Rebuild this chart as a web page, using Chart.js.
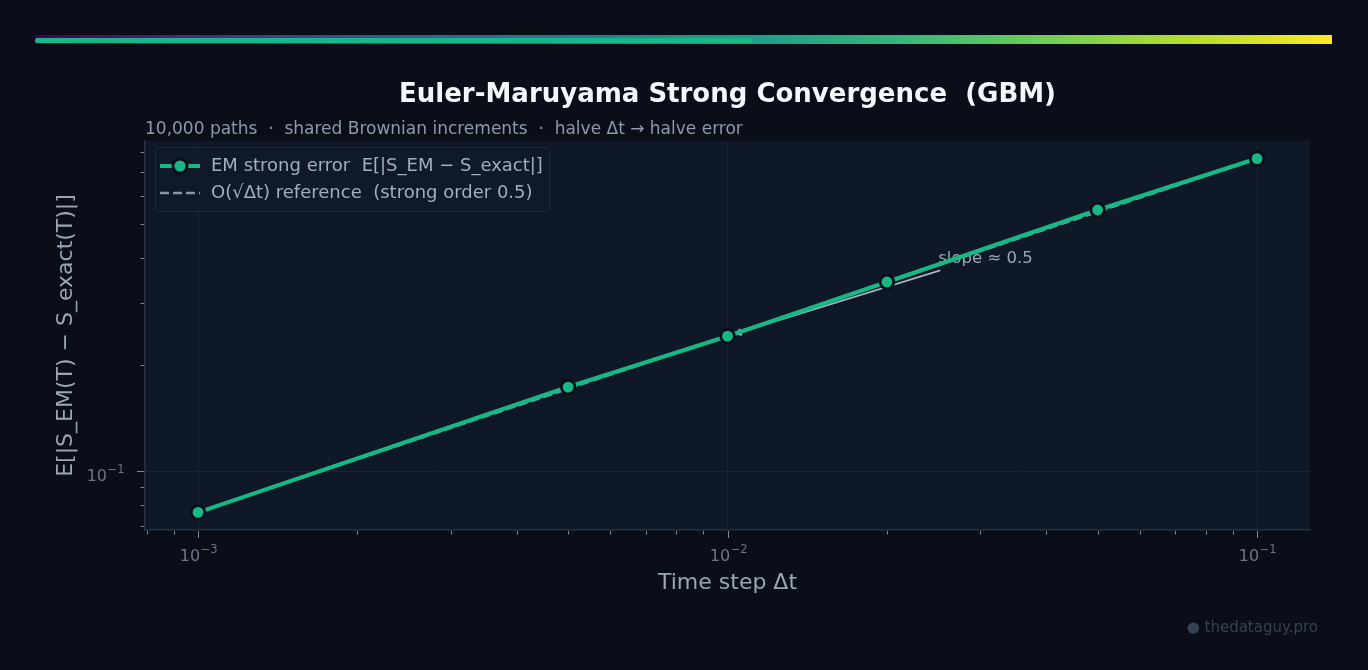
<!DOCTYPE html>
<html>
<head>
<meta charset="utf-8">
<script src="https://cdn.jsdelivr.net/npm/chart.js@4.4.1/dist/chart.umd.min.js"></script>
<style>
html, body { margin: 0; padding: 0; background: #0a0e18; }
#wrap { position: relative; width: 1368px; height: 670px; overflow: hidden; font-family: "DejaVu Sans", sans-serif; }
#bar { position: absolute; left: 35px; top: 35px; width: 1297px; height: 9px;
  background: linear-gradient(90deg, #440154, #482878, #3e4989, #31688e, #26828e, #1f9e89, #35b779, #6ece58, #b5de2b, #fde725); }
#barfill { position: absolute; left: 35px; top: 38px; width: 717px; height: 5px; border-radius: 3px 0 0 3px; background: #15b886; }
#title { position: absolute; left: 145px; width: 1165px; top: 77px; text-align: center; color: #f3f6fa; font-weight: bold; font-size: 26px; line-height: 32px; white-space: pre; }
#sub { position: absolute; left: 145px; top: 118px; color: #8e9aaa; font-size: 17px; line-height: 20px; white-space: pre; }
#wm { position: absolute; right: 50px; top: 617px; color: #364152; font-size: 15px; line-height: 20px; }
canvas { position: absolute; left: 0; top: 0; }
</style>
</head>
<body>
<div id="wrap">
  <canvas id="chart" width="1368" height="670"></canvas>
  <div id="bar"></div>
  <div id="barfill"></div>
  <div id="title">Euler-Maruyama Strong Convergence  (GBM)</div>
  <div id="sub">10,000 paths  ·  shared Brownian increments  ·  halve Δt → halve error</div>
  <div id="wm">● thedataguy.pro</div>
</div>
<script>
const dtValues = [0.001, 0.005, 0.01, 0.02, 0.05, 0.1];
const emError = [0.0765, 0.173, 0.241, 0.343, 0.548, 0.766];
const refError = [0.0765, 0.171, 0.242, 0.342, 0.541, 0.765];

// ticks: majors get a 10^n label, minors only a short mark
const xMajor = [0.001, 0.01, 0.1];
const xMajorExp = ["−3", "−2", "−1"];
const xMinor = [0.0008, 0.0009, 0.002, 0.003, 0.004, 0.005, 0.006, 0.007, 0.008, 0.009,
                0.02, 0.03, 0.04, 0.05, 0.06, 0.07, 0.08, 0.09];
const yMajor = [0.1];
const yMajorExp = ["−1"];
const yMinor = [0.07, 0.08, 0.09, 0.2, 0.3, 0.4, 0.5, 0.6, 0.7, 0.8];

const legendLabels = ["EM strong error  E[|S_EM − S_exact|]", "O(√Δt) reference  (strong order 0.5)"];

const GREEN = "#16b985";
const REF_GRAY = "#8a94a4";
const FONT = "DejaVu Sans";
const TICK_TEXT = "#6b7686";

function isIn(list, v) {
    return list.some(function (m) { return Math.abs(m - v) / m < 1e-6; });
}
function expFor(list, exps, v) {
    for (let i = 0; i < list.length; i++) {
        if (Math.abs(list[i] - v) / list[i] < 1e-6) return exps[i];
    }
    return null;
}

// draws "10" with a raised exponent; x is the centre (align 'center') or right edge (align 'right')
function drawPow(ctx, exp, x, baseY, align) {
    ctx.font = "16px '" + FONT + "'";
    const w1 = ctx.measureText("10").width;
    ctx.font = "11.5px '" + FONT + "'";
    const w2 = ctx.measureText(exp).width;
    const start = align === "center" ? x - (w1 + w2) / 2 : x - (w1 + w2);
    ctx.textAlign = "left";
    ctx.textBaseline = "alphabetic";
    ctx.font = "16px '" + FONT + "'";
    ctx.fillText("10", start, baseY);
    ctx.font = "11.5px '" + FONT + "'";
    ctx.fillText(exp, start + w1 + 0.5, baseY - 8);
}

// plot background
const bgPlugin = {
    id: "plotBg",
    beforeDraw(chart) {
        const { ctx, chartArea: a } = chart;
        ctx.save();
        ctx.fillStyle = "#0e1827";
        ctx.fillRect(a.left, a.top, a.right - a.left, a.bottom - a.top);
        ctx.restore();
    }
};

// tick marks (major longer than minor) and the 10^n labels
const tickPlugin = {
    id: "tickMarks",
    afterDraw(chart) {
        const { ctx, chartArea: a, scales } = chart;
        ctx.save();
        ctx.strokeStyle = "#7d8796";
        ctx.lineWidth = 1;
        scales.x.ticks.forEach(function (t) {
            const px = Math.round(scales.x.getPixelForValue(t.value)) + 0.5;
            const len = isIn(xMajor, t.value) ? 7 : 3.5;
            ctx.beginPath();
            ctx.moveTo(px, a.bottom + 1);
            ctx.lineTo(px, a.bottom + 1 + len);
            ctx.stroke();
            const e = expFor(xMajor, xMajorExp, t.value);
            if (e) {
                ctx.fillStyle = TICK_TEXT;
                drawPow(ctx, e, px, a.bottom + 31, "center");
            }
        });
        scales.y.ticks.forEach(function (t) {
            const py = Math.round(scales.y.getPixelForValue(t.value)) + 0.5;
            const len = isIn(yMajor, t.value) ? 7 : 3.5;
            ctx.beginPath();
            ctx.moveTo(a.left - 1, py);
            ctx.lineTo(a.left - 1 - len, py);
            ctx.stroke();
            const e = expFor(yMajor, yMajorExp, t.value);
            if (e) {
                ctx.fillStyle = TICK_TEXT;
                drawPow(ctx, e, a.left - 21, py + 9, "right");
            }
        });
        ctx.restore();
    }
};

// "slope ≈ 0.5" note with arrow to the 10^-2 point
const notePlugin = {
    id: "slopeNote",
    beforeDatasetsDraw(chart) {
        const { ctx, scales } = chart;
        const tx = scales.x.getPixelForValue(0.025);
        const ty = scales.y.getPixelForValue(0.4);
        const px = scales.x.getPixelForValue(dtValues[2]);
        const py = scales.y.getPixelForValue(emError[2]);
        const sx = tx + 2, sy = ty + 12;
        const ang = Math.atan2(py - sy, px - sx);
        const ex = px - Math.cos(ang) * 8, ey = py - Math.sin(ang) * 8;
        ctx.save();
        ctx.strokeStyle = "#a9b3c2";
        ctx.lineWidth = 1.6;
        ctx.beginPath();
        ctx.moveTo(sx, sy);
        ctx.lineTo(ex, ey);
        ctx.stroke();
        ctx.beginPath();
        ctx.moveTo(ex - Math.cos(ang - 0.45) * 7, ey - Math.sin(ang - 0.45) * 7);
        ctx.lineTo(ex, ey);
        ctx.lineTo(ex - Math.cos(ang + 0.45) * 7, ey - Math.sin(ang + 0.45) * 7);
        ctx.stroke();
        ctx.fillStyle = "#9aa5b5";
        ctx.font = "16.5px '" + FONT + "'";
        ctx.textAlign = "left";
        ctx.textBaseline = "middle";
        ctx.fillText("slope ≈ 0.5", tx, ty);
        ctx.restore();
    }
};

// legend box in the upper left of the plot
const legendPlugin = {
    id: "boxLegend",
    afterDraw(chart) {
        const { ctx, chartArea: a } = chart;
        const x0 = a.left + 10, y0 = a.top + 6, w = 394, h = 64;
        ctx.save();
        ctx.fillStyle = "rgba(15,26,41,0.9)";
        ctx.strokeStyle = "#1d2838";
        ctx.lineWidth = 1;
        ctx.beginPath();
        ctx.roundRect(x0 + 0.5, y0 + 0.5, w, h, 3);
        ctx.fill();
        ctx.stroke();

        const r1 = y0 + 19, r2 = y0 + 46;
        ctx.strokeStyle = GREEN;
        ctx.lineWidth = 4;
        ctx.beginPath();
        ctx.moveTo(x0 + 5, r1);
        ctx.lineTo(x0 + 45, r1);
        ctx.stroke();
        ctx.fillStyle = "#0a0f1a";
        ctx.beginPath();
        ctx.arc(x0 + 25, r1, 8.5, 0, Math.PI * 2);
        ctx.fill();
        ctx.fillStyle = GREEN;
        ctx.beginPath();
        ctx.arc(x0 + 25, r1, 5.6, 0, Math.PI * 2);
        ctx.fill();

        ctx.strokeStyle = REF_GRAY;
        ctx.lineWidth = 2.6;
        ctx.setLineDash([9, 4]);
        ctx.beginPath();
        ctx.moveTo(x0 + 5, r2);
        ctx.lineTo(x0 + 45, r2);
        ctx.stroke();
        ctx.setLineDash([]);

        ctx.fillStyle = "#a3aebd";
        ctx.font = "18px '" + FONT + "'";
        ctx.textAlign = "left";
        ctx.textBaseline = "middle";
        ctx.fillText(legendLabels[0], x0 + 56, r1);
        ctx.fillText(legendLabels[1], x0 + 56, r2);
        ctx.restore();
    }
};

new Chart(document.getElementById("chart"), {
    type: "line",
    data: {
        datasets: [
            {
                label: legendLabels[0],
                data: dtValues.map(function (d, i) { return { x: d, y: emError[i] }; }),
                borderColor: GREEN,
                borderWidth: 4.2,
                pointRadius: 6.8,
                pointBorderWidth: 2.8,
                pointBackgroundColor: GREEN,
                pointBorderColor: "#0a0f1a",
                tension: 0,
                order: 1
            },
            {
                label: legendLabels[1],
                data: dtValues.map(function (d, i) { return { x: d, y: refError[i] }; }),
                borderColor: REF_GRAY,
                borderWidth: 2.4,
                borderDash: [9, 4],
                pointRadius: 0,
                tension: 0,
                order: 2
            }
        ]
    },
    options: {
        responsive: false,
        animation: false,
        devicePixelRatio: 1,
        layout: { padding: { left: 0, right: 58, top: 141, bottom: 0 } },
        plugins: {
            legend: { display: false },
            tooltip: { enabled: false }
        },
        scales: {
            x: {
                type: "logarithmic",
                min: 0.000794,
                max: 0.1259,
                afterFit(scale) { scale.height = 140; },
                afterBuildTicks(scale) {
                    scale.ticks = xMajor.concat(xMinor).sort(function (a, b) { return a - b; })
                        .map(function (v) { return { value: v }; });
                },
                border: { color: "#263244", width: 1.5 },
                grid: {
                    drawTicks: false,
                    lineWidth: 1,
                    color: function (c) { return c.tick && isIn(xMajor, c.tick.value) ? "#192435" : "rgba(0,0,0,0)"; }
                },
                ticks: { display: false, autoSkip: false, maxRotation: 0 },
                title: {
                    display: true,
                    text: "Time step Δt",
                    color: "#9aa6b6",
                    font: { family: FONT, size: 22 },
                    padding: { top: 0, bottom: 73.8 }
                }
            },
            y: {
                type: "logarithmic",
                min: 0.0682,
                max: 0.859,
                afterFit(scale) { scale.width = 145; },
                afterBuildTicks(scale) {
                    scale.ticks = yMajor.concat(yMinor).sort(function (a, b) { return a - b; })
                        .map(function (v) { return { value: v }; });
                },
                border: { color: "#263244", width: 1.5 },
                grid: {
                    drawTicks: false,
                    lineWidth: 1,
                    color: function (c) { return c.tick && isIn(yMajor, c.tick.value) ? "#192435" : "rgba(0,0,0,0)"; }
                },
                ticks: { display: false, autoSkip: false },
                title: {
                    display: true,
                    text: "E[|S_EM(T) − S_exact(T)|]",
                    color: "#9aa6b6",
                    font: { family: FONT, size: 22 },
                    padding: { top: 52.8, bottom: 0 }
                }
            }
        }
    },
    plugins: [bgPlugin, notePlugin, tickPlugin, legendPlugin]
});
</script>
</body>
</html>
